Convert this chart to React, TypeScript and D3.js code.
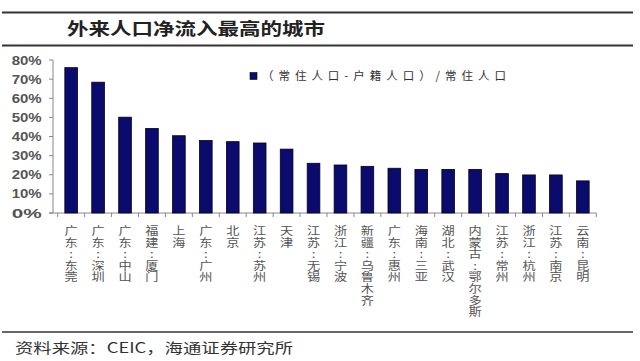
import React from "react";
import * as d3 from "d3";

const TITLE = "外来人口净流入最高的城市";
const LEGEND = "（常住人口-户籍人口）/常住人口";
const SOURCE = "资料来源：CEIC，海通证券研究所";

const cities = [
  "广东:东莞", "广东:深圳", "广东:中山", "福建:厦门", "上海", "广东:广州", "北京",
  "江苏:苏州", "天津", "江苏:无锡", "浙江:宁波", "新疆:乌鲁木齐", "广东:惠州",
  "海南:三亚", "湖北:武汉", "内蒙古:鄂尔多斯", "江苏:常州", "浙江:杭州",
  "江苏:南京", "云南:昆明",
];
const ratios = [
  0.76, 0.684, 0.501, 0.442, 0.404, 0.379, 0.373, 0.366, 0.334, 0.26,
  0.251, 0.244, 0.234, 0.228, 0.228, 0.228, 0.206, 0.199, 0.199, 0.168,
];
const yTicks = [0, 0.1, 0.2, 0.3, 0.4, 0.5, 0.6, 0.7, 0.8];

export default function App() {
  const W = 640, H = 361;
  const x = d3.scaleBand<string>().domain(cities).range([57.7, 596.3])
    .paddingInner(0.53).paddingOuter(0.265);
  const y = d3.scaleLinear().domain([0, 0.8]).range([213, 60]);
  const fmt = d3.format(".0%");
  const axisX = 53;
  const gap = (x.step() - x.bandwidth()) / 2;
  const boundaries = cities.map((c) => (x(c) as number) - gap);
  boundaries.push((x(cities[cities.length - 1]) as number) + x.bandwidth() + gap);
  const cjk = "'Noto Sans CJK SC', sans-serif";

  return (
    <div style={{ position: "absolute", left: 0, top: 0 }}>
      <svg width={W} height={H} style={{ display: "block", background: "#fff" }}>
        {/* header rules */}
        <line x1={2} x2={633} y1={12.5} y2={12.5} stroke="#333" strokeWidth={2} />
        <line x1={2} x2={633} y1={45.5} y2={45.5} stroke="#333" strokeWidth={2} />
        <text x={67} y={35} fontFamily={cjk} fontSize={17} fontWeight="bold" fill="#222"
          textLength={258} lengthAdjust="spacingAndGlyphs">{TITLE}</text>

        {/* y axis */}
        <line x1={axisX} x2={axisX} y1={y(0.8)} y2={y(0)} stroke="#888" strokeWidth={1} />
        {yTicks.map((t) => (
          <g key={t}>
            <line x1={axisX - 4} x2={axisX} y1={y(t)} y2={y(t)} stroke="#888" />
            <text x={41.7} y={y(t) + 4.5} textAnchor="end" fontFamily="'Liberation Sans', Arial, sans-serif"
              fontSize={12.5} fontWeight="bold" fill="#555" textLength={30} lengthAdjust="spacingAndGlyphs">
              {fmt(t)}
            </text>
          </g>
        ))}

        {/* x axis */}
        <line x1={axisX - 4} x2={boundaries[boundaries.length - 1]} y1={y(0)} y2={y(0)} stroke="#888" />
        {boundaries.map((b, i) => (
          <line key={i} x1={b} x2={b} y1={y(0)} y2={y(0) + 4} stroke="#888" />
        ))}

        {/* bars */}
        {cities.map((c, i) => (
          <rect key={c} x={x(c)} y={y(ratios[i])} width={x.bandwidth()} height={y(0) - y(ratios[i])}
            fill="#0b0b6e" stroke="#000022" strokeWidth={0.8} />
        ))}

        {/* vertical category labels */}
        {cities.map((c) => {
          const cx = (x(c) as number) + x.bandwidth() / 2;
          const chars = Array.from(c);
          return (
            <g key={c} transform={`translate(${cx},0) scale(1.2,1)`}>
              <text fontFamily={cjk} fontSize={11} fill="#555" textAnchor="middle">
                {chars.map((ch, k) => (
                  <tspan key={k} x={0} y={235 + k * 11.6}>{ch}</tspan>
                ))}
              </text>
            </g>
          );
        })}

        {/* legend */}
        <rect x={250} y={72.5} width={7} height={7} fill="#0b0b6e" stroke="#000022" strokeWidth={0.6} />
        <text x={262} y={80} fontFamily={cjk} fontSize={11.5} fill="#333"
          textLength={244} lengthAdjust="spacing">{LEGEND}</text>

        {/* footer */}
        <line x1={2} x2={633} y1={332} y2={332} stroke="#333" strokeWidth={1.5} />
        <text x={15} y={353} fontFamily={cjk} fontSize={14} fill="#333"
          textLength={278} lengthAdjust="spacingAndGlyphs">{SOURCE}</text>
      </svg>
    </div>
  );
}
